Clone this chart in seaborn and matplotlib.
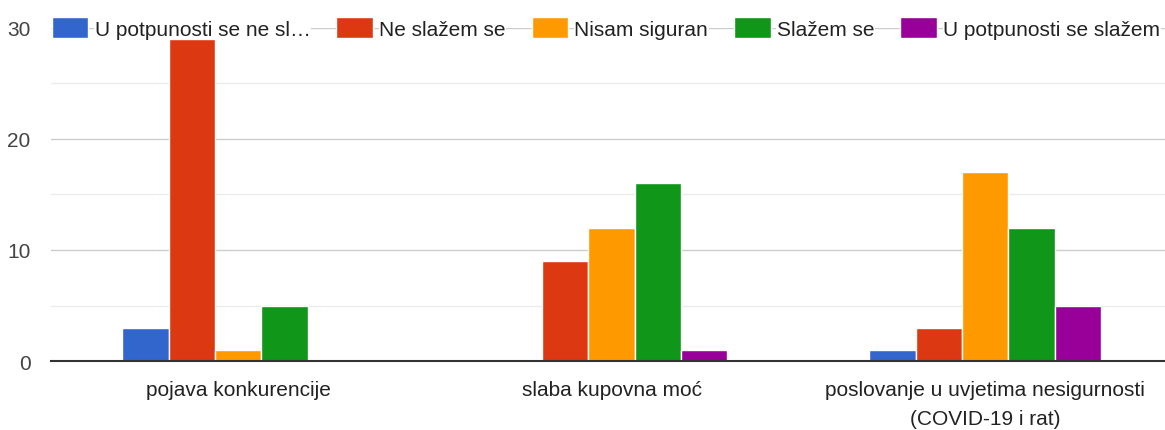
import matplotlib
matplotlib.use("Agg")
import matplotlib.pyplot as plt
import seaborn as sns
import pandas as pd

categories = ["pojava konkurencije", "slaba kupovna moć",
              "poslovanje u uvjetima nesigurnosti\n(COVID-19 i rat)"]
responses = ["U potpunosti se ne sl…", "Ne slažem se", "Nisam siguran",
             "Slažem se", "U potpunosti se slažem"]
u_potpunosti_ne = [3, 0, 1]
ne_slazem = [29, 9, 3]
nisam_siguran = [1, 12, 17]
slazem = [5, 16, 12]
u_potpunosti_da = [0, 1, 5]
colors = ["#3366cc", "#dc3912", "#ff9900", "#109618", "#990099"]
y_ticks = [0, 10, 20, 30]

series = [u_potpunosti_ne, ne_slazem, nisam_siguran, slazem, u_potpunosti_da]
rows = []
for r, vals in zip(responses, series):
    for c, v in zip(categories, vals):
        rows.append({"cat": c, "resp": r, "val": v})
df = pd.DataFrame(rows)

sns.set_style("white")
plt.rcParams["font.family"] = ["Liberation Sans", "DejaVu Sans"]

fig = plt.figure(figsize=(11.65, 4.31), dpi=100)
ax = fig.add_axes([0.044, 0.16, 0.962, 0.773])

sns.barplot(data=df, x="cat", y="val", hue="resp", order=categories,
            hue_order=responses, palette=colors, width=0.62, ax=ax,
            edgecolor="white", linewidth=1, saturation=1, zorder=3)

ax.set_xlim(-0.5, 2.5)
ax.set_ylim(0, 30)
ax.set_yticks(y_ticks)
ax.set_yticks([5, 15, 25], minor=True)
ax.grid(axis="y", which="major", color="#cccccc", linewidth=1, zorder=0)
ax.grid(axis="y", which="minor", color="#ebebeb", linewidth=1, zorder=0)
ax.grid(axis="x", visible=False)
ax.set_axisbelow(True)
for s in ["top", "right", "left"]:
    ax.spines[s].set_visible(False)
ax.spines["bottom"].set_color("#333333")
ax.spines["bottom"].set_linewidth(1.5)
ax.spines["bottom"].set_zorder(4)
ax.tick_params(axis="y", which="both", length=0, pad=15, labelsize=15, labelcolor="#444444")
ax.tick_params(axis="x", length=0, pad=14, labelsize=15, labelcolor="#222222")
for lbl in ax.get_xticklabels():
    lbl.set_linespacing(1.65)
ax.set_xlabel("")
ax.set_ylabel("")

leg = ax.legend(loc="center", bbox_to_anchor=(0.495, 1.0), ncol=5, frameon=False,
                fontsize=15, handlelength=1.75, handleheight=1.2,
                handletextpad=0.3, columnspacing=1.25, borderaxespad=0)
for t in leg.get_texts():
    t.set_color("#222222")
    t.set_bbox(dict(facecolor="white", edgecolor="none", pad=0.5))
leg.set_zorder(10)

fig.savefig("out.png", dpi=100)
